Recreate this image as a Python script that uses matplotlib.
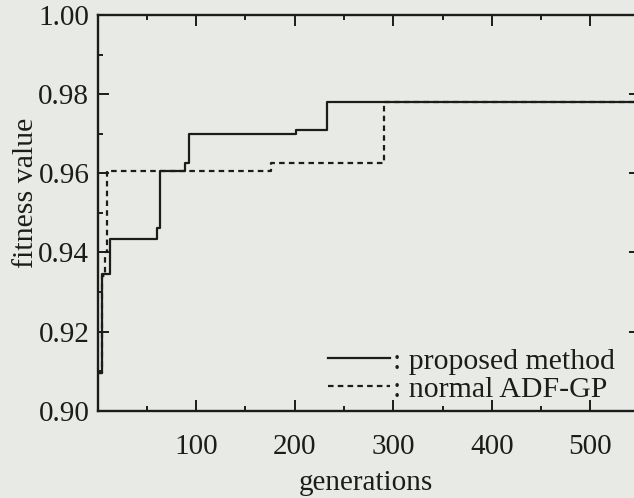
import matplotlib
matplotlib.use("Agg")
import matplotlib.pyplot as plt
from matplotlib.ticker import MultipleLocator, FormatStrFormatter

# best fitness per generation
proposed_gen = [0, 4, 13, 60, 63, 89, 93, 201, 233, 550]
proposed_fit = [0.9096, 0.9345, 0.9435, 0.9463, 0.9605, 0.9625, 0.9700, 0.9710, 0.9780, 0.9780]

normal_gen = [0, 4, 7, 9, 176, 291, 550]
normal_fit = [0.9096, 0.9340, 0.9400, 0.9605, 0.9625, 0.9780, 0.9780]

x_ticks = [100, 200, 300, 400, 500]
y_ticks = [0.90, 0.92, 0.94, 0.96, 0.98, 1.00]

paper = "#e8ebe5"
ink = "#1c1c1c"

plt.rcParams["font.family"] = ["Liberation Serif", "DejaVu Serif"]
plt.rcParams["font.size"] = 21

fig = plt.figure(figsize=(6.34, 4.98), dpi=100, facecolor=paper)
ax = fig.add_axes([0.154, 0.175, 0.855, 0.795])
ax.set_facecolor(paper)

ax.plot(normal_gen, normal_fit, drawstyle="steps-post", color=ink, lw=1.6,
        linestyle=(0, (2.5, 1.9)), label=": normal ADF-GP", zorder=2)
ax.plot(proposed_gen, proposed_fit, drawstyle="steps-post", color=ink, lw=1.6,
        label=": proposed method", zorder=3)

ax.set_xlim(0, 550)
ax.set_ylim(0.90, 1.00)
ax.set_xticks(x_ticks)
ax.set_yticks(y_ticks)
ax.xaxis.set_minor_locator(MultipleLocator(50))
ax.yaxis.set_minor_locator(MultipleLocator(0.01))
ax.yaxis.set_major_formatter(FormatStrFormatter("%.2f"))

ax.tick_params(which="both", direction="in", top=True, right=True, colors=ink, width=1.4)
ax.tick_params(which="major", length=8)
ax.tick_params(which="minor", length=3.5)
ax.tick_params(axis="x", which="major", pad=17)
ax.tick_params(axis="y", which="major", pad=6)
for sp in ax.spines.values():
    sp.set_linewidth(1.7)
    sp.set_color(ink)

ax.set_xlabel("generations", color=ink)
ax.xaxis.set_label_coords(0.495, -0.15)
ax.set_ylabel("fitness value", color=ink, fontsize=21.5)
ax.yaxis.set_label_coords(-0.108, 0.55)

handles, labels = ax.get_legend_handles_labels()
leg = ax.legend(handles[::-1], labels[::-1], loc="lower right", bbox_to_anchor=(0.955, 0.02),
                frameon=False, borderpad=0, borderaxespad=0, labelspacing=0.05,
                handlelength=2.1, handletextpad=0.1, fontsize=21.5)
for t in leg.get_texts():
    t.set_color(ink)

fig.savefig("out.png", dpi=100, facecolor=paper)
